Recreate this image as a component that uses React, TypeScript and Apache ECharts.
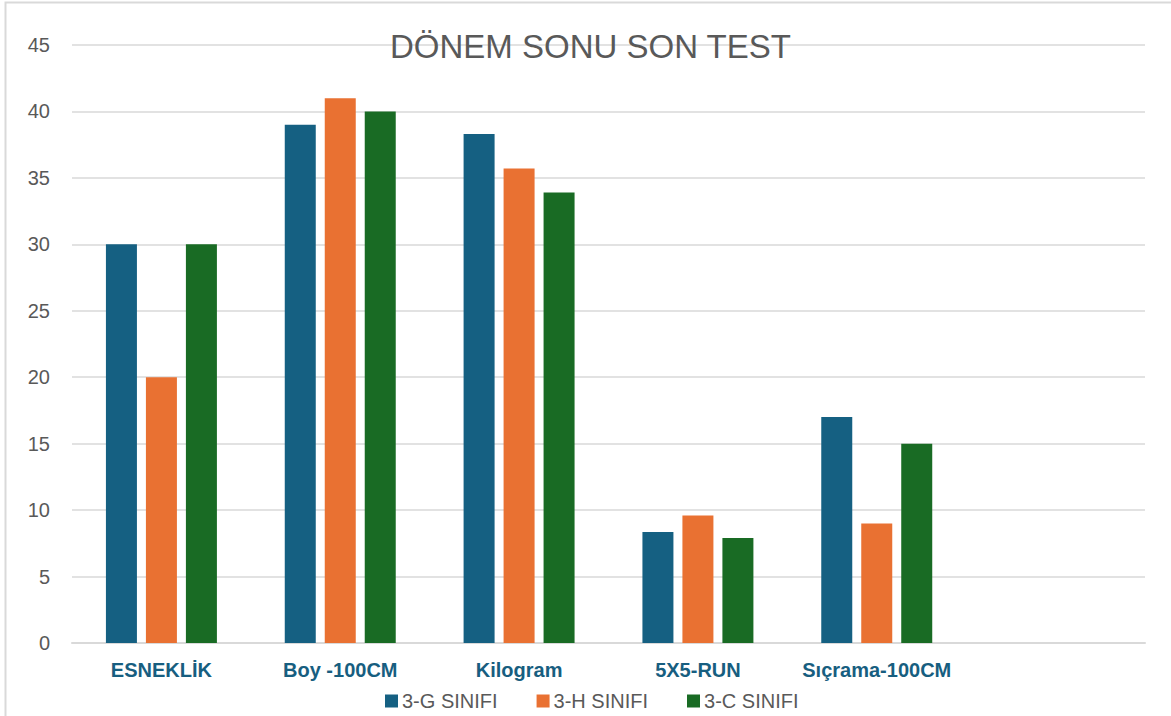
import React, { useEffect, useRef } from "react";
import * as echarts from "echarts";

const categories = ["ESNEKLİK", "Boy -100CM", "Kilogram", "5X5-RUN", "Sıçrama-100CM", ""];
const seriesNames = ["3-G SINIFI", "3-H SINIFI", "3-C SINIFI"];
const gValues = [30, 39, 38.3, 8.35, 17, null];
const hValues = [20, 41, 35.7, 9.6, 9, null];
const cValues = [30, 40, 33.9, 7.9, 15, null];
const colors = ["#156082", "#E97132", "#196B24"];

export default function App() {
  const ref = useRef<HTMLDivElement>(null);
  useEffect(() => {
    if (!ref.current) return;
    const chart = echarts.init(ref.current, null, { renderer: "svg" });
    const values = [gValues, hValues, cValues];
    chart.setOption({
      animation: false,
      backgroundColor: "#ffffff",
      title: {
        text: "DÖNEM SONU SON TEST",
        left: 385,
        top: 25,
        textStyle: {
          fontFamily: "Liberation Sans",
          fontSize: 33,
          fontWeight: "normal",
          color: "#595959",
        },
      },
      graphic: [
        {
          type: "rect",
          shape: { x: 5.5, y: 2.5, width: 1200, height: 800 },
          style: { fill: "none", stroke: "#d9d9d9", lineWidth: 2 },
          silent: true,
        },
      ],
      legend: {
        data: seriesNames,
        left: 380,
        top: 686,
        itemWidth: 13,
        itemHeight: 13,
        itemGap: 39,
        icon: "rect",
        textStyle: {
          fontFamily: "Liberation Sans",
          fontSize: 20,
          color: "#595959",
          padding: [0, 0, 0, -1],
        },
      },
      grid: { left: 72, right: 26, top: 45, bottom: 73 },
      xAxis: {
        type: "category",
        data: categories,
        axisLine: { lineStyle: { color: "#d9d9d9", width: 2 } },
        axisTick: { show: false },
        axisLabel: {
          interval: 0,
          margin: 17,
          fontFamily: "Liberation Sans",
          fontWeight: "bold",
          fontSize: 20,
          color: "#175E80",
        },
      },
      yAxis: {
        type: "value",
        min: 0,
        max: 45,
        interval: 5,
        axisLine: { show: false },
        axisTick: { show: false },
        splitLine: { lineStyle: { color: "#d9d9d9", width: 1.5 } },
        axisLabel: {
          margin: 22,
          fontFamily: "Liberation Sans",
          fontSize: 20,
          color: "#595959",
        },
      },
      series: seriesNames.map((name, i) => ({
        name,
        type: "bar",
        data: values[i],
        barWidth: 31,
        barGap: "29%",
        itemStyle: { color: colors[i] },
      })),
    });
    return () => chart.dispose();
  }, []);
  return (
    <div
      ref={ref}
      style={{ position: "absolute", left: 0, top: 0, width: 1171, height: 716 }}
    />
  );
}
